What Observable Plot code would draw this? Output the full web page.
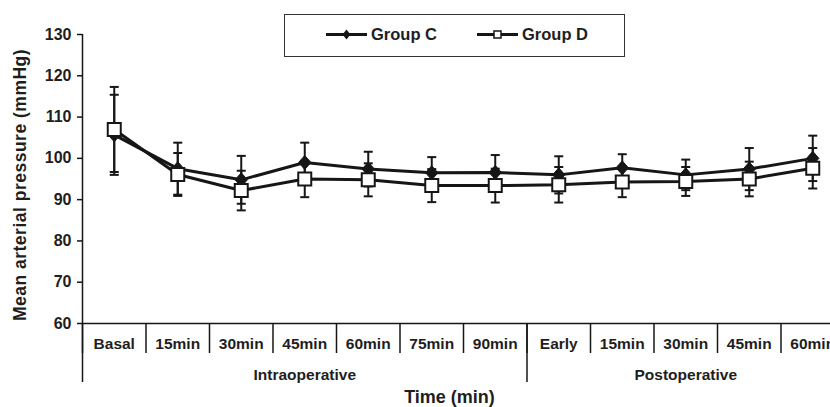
<!DOCTYPE html>
<html>
<head>
<meta charset="utf-8">
<script src="https://cdn.jsdelivr.net/npm/d3@7"></script>
<script src="https://cdn.jsdelivr.net/npm/@observablehq/plot@0.6"></script>
<style>
  html, body { margin: 0; padding: 0; background: #fff; overflow: hidden; }
  #wrap { position: relative; width: 830px; height: 407px; }
  #wrap svg text { font-family: "Liberation Sans", Arial, sans-serif; font-weight: bold; fill: #1e1e1e; }
  #wrap svg .ylab text { letter-spacing: 0.5px; }
  #legend { position: absolute; left: 284px; top: 14px; width: 341px; height: 43px; box-sizing: border-box;
            border: 1.5px solid #333; background: #fff; }
</style>
</head>
<body>
<div id="wrap"></div>
<script>
// ---- data ----
const categories = ["Basal", "15min", "30min", "45min", "60min", "75min", "90min",
                    "Early", "15min", "30min", "45min", "60min"];
const phases = ["Intraoperative", "Postoperative"];
const phaseOfCategory = [0, 0, 0, 0, 0, 0, 0, 1, 1, 1, 1, 1];
const yTicks = [60, 70, 80, 90, 100, 110, 120, 130];
const seriesNames = ["Group C", "Group D"];
const groupCMean = [105.7, 97.5, 94.8, 99.0, 97.4, 96.5, 96.6, 96.0, 97.7, 96.0, 97.4, 100.0];
const groupCSd   = [9.7, 6.3, 5.8, 4.8, 4.2, 3.8, 4.2, 4.5, 3.3, 3.7, 5.1, 5.5];
const groupDMean = [107.0, 96.1, 92.2, 95.0, 94.8, 93.4, 93.4, 93.6, 94.3, 94.4, 95.0, 97.6];
const groupDSd   = [10.3, 5.2, 4.8, 4.4, 4.0, 4.0, 4.1, 4.3, 3.7, 3.5, 4.2, 4.9];
const yLabel = "Mean arterial pressure (mmHg)";
const xLabel = "Time (min)";

// ---- derived tables ----
const idx = categories.map((_, i) => i);
const rowsC = idx.map(i => ({i, mean: groupCMean[i], lo: groupCMean[i] - groupCSd[i], hi: groupCMean[i] + groupCSd[i]}));
const rowsD = idx.map(i => ({i, mean: groupDMean[i], lo: groupDMean[i] - groupDSd[i], hi: groupDMean[i] + groupDSd[i]}));
const innerBounds = idx.map(i => i - 0.5).concat([idx.length - 0.5]);
const phaseSpans = phases.map((p, k) => {
  const members = idx.filter(i => phaseOfCategory[i] === k);
  return {name: p, first: members[0], last: members[members.length - 1]};
});
const outerBounds = [phaseSpans[0].first - 0.5].concat(phaseSpans.map(s => s.last + 0.5));
const phaseCenters = phaseSpans.map(s => (s.first + s.last) / 2);

// ---- symbols ----
const rOf = size => Math.sqrt(size / Math.PI);
const capSymbol = {draw(ctx, size) { const r = rOf(size); ctx.moveTo(-r, 0); ctx.lineTo(r, 0); }};
const diamondSymbol = {draw(ctx, size) { const r = rOf(size); ctx.moveTo(0, -r); ctx.lineTo(r * 0.88, 0); ctx.lineTo(0, r); ctx.lineTo(-r * 0.88, 0); ctx.closePath(); }};
const squareSymbol = {draw(ctx, size) { const r = rOf(size); ctx.rect(-r, -r, 2 * r, 2 * r); }};

const ink = "#161616";
const font = "Liberation Sans, Arial, sans-serif";

const chart = Plot.plot({
  width: 830,
  height: 407,
  marginLeft: 82,
  marginRight: 0,
  marginTop: 34,
  marginBottom: 84,
  style: {fontFamily: font, fontWeight: "bold", color: ink, background: "white"},
  x: {type: "linear", domain: [-0.5, categories.length - 0.5], range: [82, 844]},
  y: {domain: [60, 130]},
  marks: [
    // axis lines
    Plot.ruleY([60], {stroke: ink, strokeWidth: 1.5}),
    Plot.ruleX([-0.5], {y1: 60, y2: 130, stroke: ink, strokeWidth: 1.5}),
    Plot.axisY({ticks: yTicks, tickSize: 5, tickPadding: 6, fontSize: 16, fontWeight: "bold", label: null, strokeWidth: 1.5}),
    // category separators
    Plot.axisX({ticks: innerBounds, tickSize: 30, tickFormat: () => "", label: null, strokeWidth: 1.5, stroke: ink}),
    Plot.axisX({ticks: outerBounds, tickSize: 59, tickFormat: () => "", label: null, strokeWidth: 1.5, stroke: ink}),
    // category labels
    Plot.axisX({ticks: idx, tickSize: 0, tickPadding: 14, tickFormat: i => categories[i], label: null, fontSize: 15.5, fontWeight: "bold"}),
    // phase labels
    Plot.axisX({ticks: phaseCenters, tickSize: 0, tickPadding: 45, tickFormat: c => phaseSpans[phaseCenters.indexOf(c)].name, label: null, fontSize: 15.5, fontWeight: "bold"}),
    // axis titles
    Plot.text([xLabel], {frameAnchor: "bottom", lineAnchor: "middle", textAnchor: "middle", dx: -7, dy: 74, fontSize: 18, fontWeight: "bold"}),
    Plot.text([yLabel], {frameAnchor: "left", textAnchor: "middle", lineAnchor: "middle", rotate: -90, dx: -62, dy: 6, fontSize: 17.5, fontWeight: "bold", className: "ylab"}),
    // series lines
    Plot.line(rowsC, {x: "i", y: "mean", stroke: ink, strokeWidth: 3}),
    Plot.line(rowsD, {x: "i", y: "mean", stroke: ink, strokeWidth: 3}),
    // error bars
    Plot.ruleX(rowsC, {x: "i", y1: "lo", y2: "hi", stroke: ink, strokeWidth: 2}),
    Plot.ruleX(rowsD, {x: "i", y1: "lo", y2: "hi", stroke: ink, strokeWidth: 2}),
    Plot.dot(rowsC, {x: "i", y: "lo", symbol: capSymbol, r: 4.5, stroke: ink, strokeWidth: 2, fill: "none"}),
    Plot.dot(rowsC, {x: "i", y: "hi", symbol: capSymbol, r: 4.5, stroke: ink, strokeWidth: 2, fill: "none"}),
    Plot.dot(rowsD, {x: "i", y: "lo", symbol: capSymbol, r: 4.5, stroke: ink, strokeWidth: 2, fill: "none"}),
    Plot.dot(rowsD, {x: "i", y: "hi", symbol: capSymbol, r: 4.5, stroke: ink, strokeWidth: 2, fill: "none"}),
    // markers
    Plot.dot(rowsC, {x: "i", y: "mean", symbol: diamondSymbol, r: 7, fill: ink, stroke: ink, strokeWidth: 1}),
    Plot.dot(rowsD, {x: "i", y: "mean", symbol: squareSymbol, r: 6.5, fill: "white", stroke: ink, strokeWidth: 2})
  ]
});

const wrap = document.getElementById("wrap");
wrap.appendChild(chart);

// legend (inside plot area, as in the original)
const legend = document.createElement("div");
legend.id = "legend";
wrap.appendChild(legend);
const lsvg = d3.select(legend).append("svg").attr("width", 338).attr("height", 40).style("display", "block");
const items = [
  {name: seriesNames[0], x0: 41, kind: "diamond"},
  {name: seriesNames[1], x0: 192, kind: "square"}
];
items.forEach(it => {
  const g = lsvg.append("g").attr("transform", `translate(${it.x0},19.5)`);
  g.append("line").attr("x1", 0).attr("x2", 41).attr("y1", 0).attr("y2", 0).attr("stroke", ink).attr("stroke-width", 3);
  if (it.kind === "diamond") {
    g.append("path").attr("d", "M20.5,-5 L24.5,0 L20.5,5 L16.5,0 Z").attr("fill", ink);
  } else {
    g.append("rect").attr("x", 17).attr("y", -3.5).attr("width", 7).attr("height", 7).attr("fill", "white").attr("stroke", ink).attr("stroke-width", 1.5);
  }
  g.append("text").attr("x", 45).attr("y", 0).attr("dy", "0.35em")
    .style("font-family", font).style("font-weight", "bold").style("font-size", "16.5px").attr("fill", "#1e1e1e")
    .text(it.name);
});
</script>
</body>
</html>
